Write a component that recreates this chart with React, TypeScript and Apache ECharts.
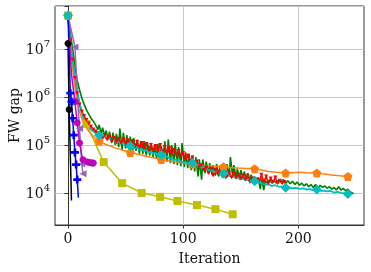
import React, { useEffect, useRef } from "react";
import * as echarts from "echarts";

const xTicks = [0, 100, 200];

const green: [number, number][] = [
  [0, 5e7], [2, 2.2e7], [4, 1e7], [6, 4.5e6], [8, 2.2e6], [10, 1.4e6], [12, 9.5e5], [14, 7e5],
  [16, 5.4e5], [18, 4.4e5], [20, 3.6e5], [22, 3.1e5], [24, 2.6e5], [26, 2.1e5], [27, 2.6e5], [29, 1.7e5],
  [30, 2.3e5], [32, 1.5e5], [33, 2e5], [35, 1.3e5], [36, 1.9e5], [38, 1.1e5], [39, 1.8e5], [41, 1e5],
  [42, 1.7e5], [44, 9e4], [45, 2.2e5], [47, 8e4], [48, 1.8e5], [50, 8.5e4], [51, 1.6e5], [53, 7.5e4],
  [54, 1.5e5], [56, 7e4], [57, 1.4e5], [59, 7.5e4], [60, 1.3e5], [62, 6.5e4], [63, 1.2e5], [65, 6.5e4],
  [66, 1.2e5], [68, 6e4], [69, 1.1e5], [71, 6e4], [72, 1.1e5], [74, 5.5e4], [75, 1e5], [77, 5.2e4],
  [78, 1.05e5], [80, 5e4], [81, 9.5e4], [83, 4.6e4], [84, 1.2e5], [86, 4.5e4], [87, 1.3e5], [89, 4.2e4],
  [90, 1e5], [92, 4e4], [93, 1.1e5], [95, 3.8e4], [96, 9e4], [98, 3.6e4], [99, 1.1e5], [101, 3.5e4],
  [102, 7e4], [104, 3.3e4], [105, 6.5e4], [107, 3e4], [108, 6e4], [110, 2.8e4], [111, 5.6e4], [113, 2.2e4],
  [114, 5e4], [116, 1.9e4], [117, 5e4], [119, 2.6e4], [120, 4.5e4], [122, 2.5e4], [123, 4.2e4], [125, 2.4e4],
  [126, 3.8e4], [128, 2.3e4], [129, 4e4], [131, 2.2e4], [132, 3.6e4], [134, 2.1e4], [135, 3.4e4], [137, 2e4],
  [138, 4e4], [140, 2.2e4], [141, 5.6e4], [143, 2.2e4], [144, 3.8e4], [146, 2e4], [147, 3.2e4], [149, 1.9e4],
  [150, 3e4], [152, 2e4], [153, 2.8e4], [155, 1.9e4], [156, 2.6e4], [158, 1.8e4], [159, 2.4e4], [161, 1.7e4],
  [162, 2.2e4], [164, 1.6e4], [165, 2.1e4], [167, 1.2e4], [168, 2e4], [170, 1.15e4], [171, 1.8e4], [173, 1.6e4],
  [175, 1.9e4], [177, 1.6e4], [179, 1.8e4], [181, 1.6e4], [183, 1.9e4], [185, 1.7e4], [187, 1.9e4], [189, 1.6e4],
  [191, 1.8e4], [193, 1.55e4], [195, 1.75e4], [197, 1.5e4], [199, 1.7e4], [201, 1.45e4], [203, 1.6e4], [205, 1.4e4],
  [207, 1.55e4], [209, 1.35e4], [211, 1.5e4], [213, 1.3e4], [215, 1.5e4], [217, 1.25e4], [219, 1.45e4], [221, 1.3e4],
  [223, 1.4e4], [225, 1.25e4], [227, 1.35e4], [229, 1.2e4], [231, 1.3e4], [233, 1.15e4], [235, 1.35e4], [237, 1.15e4],
  [239, 1.25e4], [241, 1.1e4], [243, 1.2e4], [245, 1.05e4], [247, 1e4], [248, 9.5e3],
];

const red: [number, number][] = [
  [0, 5e7], [2, 1.5e7], [4, 6e6], [6, 2.5e6], [8, 1.2e6], [10, 7e5], [12, 5e5], [14, 4e5], [16, 3.3e5],
  [18, 2.8e5], [20, 2.4e5], [22, 2.1e5], [24, 1.9e5], [26, 1.75e5], [28, 1.6e5], [30, 1.4e5], [32, 1.6e5],
  [34, 1.3e5], [36, 1.5e5], [38, 1.2e5], [40, 1.4e5], [42, 1.15e5], [44, 1.35e5], [46, 1.1e5], [48, 1.3e5],
  [50, 1.05e5], [52, 1.25e5], [54, 1e5], [56, 1.2e5], [58, 9.5e4], [60, 1.15e5], [62, 9e4], [64, 1.1e5],
  [66, 8.5e4], [68, 1.05e5], [70, 8e4], [72, 1e5], [74, 7.8e4], [76, 9.5e4], [78, 7.5e4], [80, 1e5],
  [82, 7e4], [84, 9e4], [86, 6.8e4], [88, 8.5e4], [90, 6.5e4], [92, 8e4], [94, 6.2e4], [96, 7.5e4],
  [98, 6e4], [100, 6.8e4], [102, 5e4], [104, 6e4], [106, 4.5e4], [108, 5.5e4], [110, 4e4], [112, 4.5e4],
  [114, 3.5e4], [116, 3.8e4], [118, 3e4], [120, 3.4e4], [122, 2.6e4], [124, 3.2e4], [126, 2.3e4], [128, 3e4],
  [130, 2.5e4], [132, 2.8e4], [134, 2.4e4], [136, 2.7e4], [138, 2.2e4], [140, 2.6e4], [142, 2.1e4], [144, 2.5e4],
  [146, 2.1e4], [148, 2.4e4], [150, 2e4], [152, 2.3e4], [154, 1.9e4], [156, 2.2e4], [158, 1.7e4], [160, 2e4],
  [162, 1.6e4], [164, 1.9e4], [166, 1.8e4], [168, 2.4e4], [170, 1.7e4], [172, 2.2e4], [174, 1.6e4], [176, 2e4],
  [178, 1.7e4], [180, 2.1e4], [182, 1.6e4], [184, 1.8e4], [186, 1.6e4], [188, 1.7e4],
];

const orange: [number, number][] = [
  [0, 5e7], [2, 1.2e7], [4, 4e6], [6, 1.6e6], [8, 8e5], [10, 5e5], [12, 3.5e5], [14, 2.7e5], [17, 2.1e5],
  [20, 1.7e5], [24, 1.35e5], [27, 1.2e5], [30, 1.1e5], [32, 1.05e5], [35, 9.8e4], [37, 9.5e4], [40, 8.8e4],
  [42, 8.5e4], [45, 8.2e4], [47, 7.8e4], [50, 7.5e4], [54, 7e4], [57, 6.8e4], [60, 6.4e4], [64, 6.2e4],
  [67, 5.9e4], [70, 5.7e4], [74, 5.4e4], [77, 5.2e4], [81, 5e4], [84, 4.9e4], [87, 4.7e4], [90, 4.6e4],
  [94, 4.4e4], [97, 4.3e4], [100, 4.2e4], [104, 4.1e4], [108, 4e4], [111, 3.9e4], [114, 3.8e4], [117, 3.75e4],
  [120, 3.7e4], [124, 3.65e4], [127, 3.6e4], [131, 3.55e4], [135, 3.5e4], [138, 3.45e4], [141, 3.4e4], [144, 3.35e4],
  [148, 3.3e4], [151, 3.28e4], [154, 3.25e4], [158, 3.22e4], [162, 3.2e4], [165, 3.1e4], [168, 3e4], [171, 2.9e4],
  [174, 2.8e4], [178, 2.75e4], [181, 2.7e4], [185, 2.65e4], [189, 2.6e4], [194, 2.65e4], [198, 2.68e4], [201, 2.7e4],
  [204, 2.68e4], [207, 2.65e4], [212, 2.62e4], [216, 2.6e4], [221, 2.5e4], [224, 2.45e4], [227, 2.4e4], [231, 2.35e4],
  [234, 2.3e4], [238, 2.25e4], [243, 2.2e4], [245, 2.1e4],
];
const orangeMarks = [0, 27, 54, 81, 108, 135, 162, 189, 216, 243];

const cyan: [number, number][] = [
  [0, 5e7], [2, 1.4e7], [4, 6e6], [6, 2.5e6], [8, 1.3e6], [9, 1e6], [11, 6e5], [13, 3.8e5], [15, 3e5],
  [18, 2.4e5], [20, 2.1e5], [22, 1.9e5], [25, 1.7e5], [27, 1.6e5], [30, 1.4e5], [32, 1.5e5], [34, 1.3e5],
  [36, 1.4e5], [38, 1.2e5], [40, 1.3e5], [42, 1.1e5], [44, 1.2e5], [46, 1.05e5], [48, 1.1e5], [50, 9.8e4],
  [52, 1.05e5], [54, 9.5e4], [56, 9.8e4], [58, 8.5e4], [60, 9e4], [62, 8e4], [64, 8.3e4], [66, 7.5e4],
  [68, 7.8e4], [70, 7e4], [72, 7.2e4], [74, 6.6e4], [76, 6.8e4], [78, 6.2e4], [81, 6.2e4], [84, 5.6e4],
  [86, 5.8e4], [88, 5.2e4], [90, 5.3e4], [92, 4.8e4], [94, 5e4], [96, 4.5e4], [98, 4.6e4], [100, 4.3e4],
  [102, 4.4e4], [104, 4.1e4], [106, 4.2e4], [108, 4.2e4], [110, 3.8e4], [112, 3.9e4], [114, 3.5e4], [116, 3.6e4],
  [118, 3.2e4], [120, 3.3e4], [122, 3e4], [124, 3e4], [126, 2.8e4], [128, 2.8e4], [130, 2.6e4], [132, 2.7e4],
  [135, 2.5e4], [138, 2.4e4], [140, 2.3e4], [142, 2.2e4], [144, 2.2e4], [146, 2e4], [148, 2.1e4], [150, 1.95e4],
  [152, 2e4], [154, 1.85e4], [156, 1.9e4], [158, 1.75e4], [162, 1.75e4], [165, 1.65e4], [168, 1.6e4], [171, 1.5e4],
  [174, 1.5e4], [177, 1.4e4], [180, 1.45e4], [183, 1.35e4], [186, 1.35e4], [189, 1.28e4], [192, 1.3e4], [195, 1.25e4],
  [198, 1.28e4], [201, 1.22e4], [204, 1.25e4], [207, 1.18e4], [210, 1.2e4], [213, 1.15e4], [216, 1.18e4], [219, 1.1e4],
  [222, 1.12e4], [225, 1.08e4], [228, 1.1e4], [231, 1.02e4], [234, 1.05e4], [237, 1e4], [240, 9.8e3], [243, 9.5e3],
];
const cyanMarks = [0, 27, 54, 81, 108, 135, 162, 189, 216, 243];

const olive: [number, number][] = [
  [0, 5e7], [3, 8e6], [6, 2e6], [9, 8e5], [12, 4.5e5], [16, 2.75e5], [31, 4.4e4], [47, 1.6e4],
  [64, 1e4], [80, 8.3e3], [95, 6.8e3], [112, 5.6e3], [128, 4.6e3], [143, 3.6e3],
];
const oliveMarks = [0, 16, 31, 47, 64, 80, 95, 112, 128, 143];

const blue: [number, number][] = [
  [0, 5e7], [2, 1.2e6], [3, 8e5], [4, 3.6e5], [5, 1.6e5], [6, 7e4], [7, 3.9e4], [8, 1.9e4], [9, 8e3],
];
const blueMarks = [2, 3, 4, 5, 6, 7, 8];

const black: [number, number][] = [[0, 1.3e7], [1, 5.5e5], [3, 7e3]];
const blackMarks = [0, 1];

const magenta: [number, number][] = [
  [0, 5e7], [3, 3e6], [6, 8e5], [8, 2.9e5], [10, 1.1e5], [12, 6e4], [13, 4.9e4], [15, 4.6e4],
  [17, 4.4e4], [19, 4.3e4], [21, 4.2e4], [22, 4.2e4],
];
const magentaMarks = [6, 8, 10, 13, 17, 19, 21, 22];

const purple: [number, number][] = [
  [0, 5e7], [6, 1.1e7], [7, 4e6], [8, 1.3e6], [9, 5e5], [10, 2.2e5], [11, 9e4], [12, 4e4], [13, 2.5e4],
];
const purpleMarks = [6, 10, 12, 13];

const PENTAGON = "path://M0,-10L9.51,-3.09L5.88,8.09L-5.88,8.09L-9.51,-3.09Z";
const PLUS = "path://M-3,-9H3V-3H9V3H3V9H-3V3H-9V-3H-3Z";
const FONT = "DejaVu Serif";

function marked(data: [number, number][], marks: number[] | null, symbol: string) {
  return data.map(([x, y]) => ({
    value: [x, y],
    symbol: marks === null || marks.includes(x) ? symbol : "none",
  }));
}

function line(name: string, color: string, data: any[], symbol: string, size: number, width = 1.5, extra: any = {}) {
  return {
    name,
    type: "line",
    data,
    symbol,
    symbolSize: size,
    showAllSymbol: true,
    lineStyle: { color, width },
    itemStyle: { color },
    z: 2,
    ...extra,
  };
}

export default function App() {
  const ref = useRef<HTMLDivElement>(null);
  useEffect(() => {
    const chart = echarts.init(ref.current!, null, { renderer: "svg" });
    chart.setOption({
      animation: false,
      grid: {
        left: 55, right: 7, top: 6, bottom: 47, show: true, borderColor: "#333", borderWidth: 1,
        containLabel: false, outerBoundsMode: "none",
      },
      xAxis: {
        type: "value",
        min: -11.3,
        max: 257,
        name: "Iteration",
        nameLocation: "middle",
        nameGap: 26,
        nameMoveOverlap: false,
        nameTextStyle: { fontFamily: FONT, fontSize: 14, color: "#111" },
        axisLine: { show: true, lineStyle: { color: "#333", width: 1 } },
        axisTick: { show: true, length: 3.5, lineStyle: { color: "#333" }, customValues: xTicks },
        axisLabel: { customValues: xTicks, fontFamily: FONT, fontSize: 14, color: "#111", margin: 6 },
        splitLine: { show: true, lineStyle: { color: "#c8c8c8", width: 1 } },
      },
      yAxis: {
        type: "log",
        min: 2150,
        max: 7.87e7,
        name: "FW gap",
        nameLocation: "middle",
        nameGap: 34,
        nameMoveOverlap: false,
        nameTextStyle: { fontFamily: FONT, fontSize: 14, color: "#111" },
        axisLine: { show: true, lineStyle: { color: "#333", width: 1 } },
        axisTick: { show: true, length: 3.5, lineStyle: { color: "#333" } },
        axisLabel: {
          margin: 5,
          formatter: (v: number) => {
            const e = Math.log10(v);
            if (Math.abs(e - Math.round(e)) > 1e-6) return "";
            return `{b|10}{s|${Math.round(e)}}`;
          },
          rich: {
            b: { fontFamily: FONT, fontSize: 14, color: "#111", lineHeight: 20 },
            s: { fontFamily: FONT, fontSize: 10, color: "#111", lineHeight: 12, verticalAlign: "top" },
          },
        },
        splitLine: { show: true, lineStyle: { color: "#c8c8c8", width: 1 } },
      },
      series: [
        line("blackLine", "#000000", marked(black, blackMarks, "circle"), "circle", 7),
        line("olive", "#bfbf00", marked(olive, oliveMarks, "rect"), "rect", 8),
        line("green", "#008000", green, "none", 0, 1.6),
        line("red", "#ff0000", red, "triangle", 4, 1.6, { symbolRotate: 180 }),
        line("orange", "#ff7f0e", marked(orange, orangeMarks, PENTAGON), PENTAGON, 9),
        line("cyan", "#00bfbf", marked(cyan, cyanMarks, "diamond"), "diamond", 10, 1.8),
        line("purple", "#9467bd", marked(purple, purpleMarks, "triangle"), "triangle", 7, 1.5, { symbolRotate: 90 }),
        line("magenta", "#bf00bf", marked(magenta, magentaMarks, "circle"), "circle", 7),
        line("blue", "#0000ff", marked(blue, blueMarks, PLUS), PLUS, 8),
      ],
    });
    return () => chart.dispose();
  }, []);
  return <div ref={ref} style={{ position: "fixed", left: 0, top: 0, width: 371, height: 272 }} />;
}
